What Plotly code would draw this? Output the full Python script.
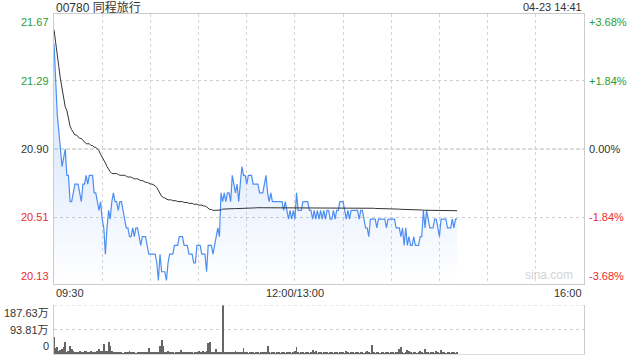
import plotly.graph_objects as go

title = "00780 同程旅行"
timestamp = "04-23 14:41"
prev_close = 20.90

# price per minute from 09:30 (index 0) to 14:41 (index 251); afternoon continues after index 150 (13:00)
price = [
    21.50, 21.30, 21.10, 21.00, 20.90, 20.80, 20.85, 20.90, 20.75, 20.75,
    20.60, 20.60, 20.65, 20.70, 20.70, 20.70, 20.65, 20.60, 20.70, 20.70,
    20.75, 20.70, 20.75, 20.75, 20.75, 20.65, 20.65, 20.60, 20.55, 20.60,
    20.50, 20.45, 20.30, 20.45, 20.55, 20.50, 20.60, 20.65, 20.60, 20.60,
    20.55, 20.60, 20.60, 20.55, 20.50, 20.45, 20.45, 20.40, 20.40, 20.45,
    20.40, 20.45, 20.45, 20.40, 20.35, 20.40, 20.40, 20.40, 20.35, 20.30,
    20.30, 20.30, 20.30, 20.30, 20.25, 20.15, 20.30, 20.20, 20.20, 20.20,
    20.15, 20.25, 20.30, 20.30, 20.30, 20.35, 20.35, 20.35, 20.40, 20.40,
    20.40, 20.35, 20.35, 20.35, 20.30, 20.30, 20.30, 20.25, 20.25, 20.35,
    20.35, 20.35, 20.30, 20.30, 20.30, 20.20, 20.35, 20.35, 20.35, 20.30,
    20.35, 20.40, 20.45, 20.40, 20.65, 20.60, 20.65, 20.60, 20.65, 20.65,
    20.60, 20.75, 20.70, 20.65, 20.70, 20.60, 20.70, 20.80, 20.75, 20.75,
    20.70, 20.75, 20.75, 20.75, 20.70, 20.70, 20.70, 20.70, 20.65, 20.65,
    20.65, 20.70, 20.75, 20.65, 20.60, 20.65, 20.60, 20.60, 20.60, 20.60,
    20.60, 20.60, 20.60, 20.55, 20.60, 20.55, 20.50, 20.55, 20.50, 20.55,
    20.50, 20.65, 20.55, 20.55, 20.55, 20.60, 20.60, 20.60, 20.60, 20.55,
    20.55, 20.50, 20.55, 20.50, 20.55, 20.50, 20.55, 20.50, 20.55, 20.50,
    20.55, 20.55, 20.50, 20.50, 20.55, 20.50, 20.55, 20.55, 20.60, 20.60,
    20.60, 20.55, 20.50, 20.55, 20.50, 20.55, 20.55, 20.55, 20.55, 20.55,
    20.50, 20.55, 20.55, 20.50, 20.45, 20.45, 20.40, 20.50, 20.50, 20.50,
    20.50, 20.45, 20.50, 20.50, 20.50, 20.50, 20.50, 20.45, 20.50, 20.50,
    20.50, 20.50, 20.50, 20.45, 20.45, 20.45, 20.40, 20.45, 20.35, 20.45,
    20.35, 20.40, 20.35, 20.35, 20.40, 20.35, 20.35, 20.35, 20.40, 20.40,
    20.55, 20.45, 20.55, 20.50, 20.45, 20.45, 20.45, 20.50, 20.50, 20.45,
    20.40, 20.50, 20.50, 20.50, 20.50, 20.45, 20.45, 20.45, 20.50, 20.45,
    20.50, 20.50,
]

avg_price = [
    21.58, 21.50, 21.44, 21.37, 21.30, 21.24, 21.18, 21.14, 21.12, 21.07,
    21.03, 21.01, 20.99, 20.98, 20.98, 20.97, 20.96, 20.96, 20.95, 20.94,
    20.93, 20.93, 20.93, 20.92, 20.92, 20.91, 20.91, 20.90, 20.89, 20.87,
    20.85, 20.84, 20.82, 20.80, 20.78, 20.77, 20.76, 20.76, 20.76, 20.76,
    20.755, 20.75, 20.75, 20.75, 20.75, 20.745, 20.74, 20.74, 20.74, 20.735,
    20.73, 20.73, 20.73, 20.725, 20.72, 20.72, 20.715, 20.71, 20.71, 20.705,
    20.70, 20.70, 20.695, 20.69, 20.68, 20.66, 20.65, 20.63, 20.625, 20.62,
    20.615, 20.61, 20.61, 20.61, 20.605, 20.605, 20.605, 20.60, 20.60, 20.60,
    20.60, 20.595, 20.595, 20.595, 20.59, 20.59, 20.59, 20.585, 20.585, 20.585,
    20.58, 20.58, 20.58, 20.575, 20.575, 20.57, 20.56, 20.555, 20.555, 20.55,
    20.55, 20.55, 20.548, 20.548, 20.552, 20.557, 20.558, 20.558, 20.559, 20.559,
    20.559, 20.56, 20.56, 20.56, 20.56, 20.561, 20.561, 20.562, 20.562, 20.563,
    20.563, 20.563, 20.564, 20.564, 20.564, 20.564, 20.565, 20.565, 20.565, 20.565,
    20.565, 20.566, 20.566, 20.566, 20.566, 20.566, 20.566, 20.566, 20.566, 20.566,
    20.566, 20.566, 20.566, 20.566, 20.566, 20.566, 20.566, 20.566, 20.566, 20.566,
    20.566, 20.566, 20.566, 20.566, 20.566, 20.566, 20.566, 20.566, 20.566, 20.566,
    20.566, 20.566, 20.566, 20.566, 20.566, 20.566, 20.566, 20.566, 20.566, 20.566,
    20.566, 20.566, 20.566, 20.566, 20.566, 20.566, 20.566, 20.566, 20.566, 20.566,
    20.566, 20.566, 20.566, 20.566, 20.566, 20.566, 20.565, 20.565, 20.565, 20.565,
    20.565, 20.565, 20.564, 20.564, 20.564, 20.563, 20.563, 20.562, 20.562, 20.562,
    20.561, 20.561, 20.561, 20.560, 20.560, 20.560, 20.560, 20.559, 20.559, 20.559,
    20.558, 20.558, 20.558, 20.557, 20.557, 20.557, 20.556, 20.556, 20.556, 20.555,
    20.555, 20.554, 20.554, 20.554, 20.553, 20.553, 20.553, 20.552, 20.552, 20.552,
    20.551, 20.551, 20.551, 20.551, 20.550, 20.550, 20.550, 20.550, 20.550, 20.549,
    20.549, 20.549, 20.549, 20.549, 20.549, 20.548, 20.548, 20.548, 20.548, 20.548,
    20.548, 20.548,
]

# volume per minute, in 万 shares
volume = [
    64, 22, 25, 12, 14, 20, 25, 45, 8, 13,
    29, 20, 11, 6, 8, 8, 13, 5, 8, 11,
    11, 5, 8, 11, 8, 8, 8, 13, 20, 13,
    13, 38, 13, 13, 45, 32, 13, 8, 4, 5,
    4, 4, 5, 3, 4, 5, 4, 11, 4, 5,
    4, 3, 5, 4, 4, 8, 4, 5, 4, 24,
    5, 8, 4, 5, 8, 6, 32, 52, 32, 8,
    5, 11, 4, 5, 4, 3, 5, 4, 4, 15,
    4, 8, 4, 8, 4, 5, 4, 3, 5, 4,
    13, 4, 8, 13, 4, 13, 42, 45, 4, 5,
    4, 20, 5, 4, 8, 187.63, 4, 5, 4, 4,
    5, 4, 8, 11, 4, 4, 5, 4, 24, 5,
    4, 3, 5, 4, 4, 3, 5, 4, 3, 4,
    5, 4, 4, 29, 4, 3, 4, 5, 3, 4,
    4, 3, 5, 4, 3, 4, 4, 5, 3, 4,
    10, 26, 4, 3, 5, 4, 3, 4, 5, 3,
    4, 17, 4, 10, 3, 4, 5, 3, 4, 4,
    5, 3, 4, 4, 3, 5, 4, 3, 4, 6,
    4, 3, 10, 4, 3, 4, 5, 3, 4, 4,
    3, 4, 5, 3, 4, 10, 4, 3, 33, 4,
    3, 4, 5, 3, 4, 4, 3, 5, 4, 3,
    4, 4, 3, 5, 4, 20, 26, 4, 3, 5,
    14, 10, 4, 3, 4, 5, 3, 4, 10, 4,
    3, 20, 4, 5, 3, 4, 4, 3, 10, 4,
    3, 14, 4, 5, 3, 4, 4, 3, 5, 4,
    3, 4,
]

time_labels = ["09:30", "12:00/13:00", "16:00"]
time_pos = [0, 150, 330]
price_ticks = [21.67, 21.29, 20.90, 20.51, 20.13]
price_labels = ["21.67", "21.29", "20.90", "20.51", "20.13"]
pct_labels = ["+3.68%", "+1.84%", "0.00%", "-1.84%", "-3.68%"]
vol_ticks = [187.63, 93.81, 0]
vol_labels = ["187.63万", "93.81万", "0"]

GREEN = "#2a9d35"
RED = "#ee2a2a"
DARK = "#333333"
FONT = "Liberation Sans, Arial, Noto Sans CJK SC, sans-serif"

fig = go.Figure()
fig.add_trace(go.Scatter(
    x=list(range(len(price))), y=price, mode="lines",
    line=dict(color="#4d8ef2", width=1.2),
    fill="tozeroy",
    fillgradient=dict(type="vertical", start=20.13, stop=20.85,
                      colorscale=[[0, "rgba(77,142,242,0.0)"], [1, "rgba(77,142,242,0.16)"]]),
    xaxis="x", yaxis="y", hoverinfo="skip"))
fig.add_trace(go.Scatter(
    x=list(range(len(avg_price))), y=avg_price, mode="lines",
    line=dict(color="#333333", width=1),
    xaxis="x", yaxis="y", hoverinfo="skip"))
fig.add_trace(go.Bar(
    x=list(range(len(volume))), y=volume, width=0.6,
    marker=dict(color="#666666", line=dict(width=0)),
    xaxis="x2", yaxis="y2", hoverinfo="skip"))

H = 340.0  # plot-area height in px (14..354)
main_bottom = (354 - 284) / H
vol_top = (354 - 305) / H

fig.update_layout(
    width=640, height=360,
    margin=dict(l=54, r=56, t=14, b=6),
    paper_bgcolor="white", plot_bgcolor="white",
    showlegend=False,
    font=dict(family=FONT, size=11, color=DARK),
    xaxis=dict(domain=[0, 1], range=[0, 330], anchor="y",
               tickvals=list(range(30, 330, 30)), showticklabels=False, ticks="",
               showgrid=True, gridcolor="#d6d6d6", griddash="dot", gridwidth=1,
               showline=True, linecolor="#cccccc", mirror=True, zeroline=False),
    yaxis=dict(domain=[main_bottom, 1], range=[price_ticks[-1], price_ticks[0]], anchor="x",
               tickvals=[price_ticks[1], price_ticks[3]], showticklabels=False, ticks="",
               showgrid=True, gridcolor="#cfcfcf", griddash="dot", gridwidth=1,
               showline=True, linecolor="#cccccc", mirror=True, zeroline=False),
    xaxis2=dict(domain=[0, 1], range=[0, 330], anchor="y2",
                showticklabels=False, ticks="", showgrid=False,
                showline=True, linecolor="#dddddd", mirror=False, zeroline=False),
    yaxis2=dict(domain=[0, vol_top], range=[0, vol_ticks[0]], anchor="x2",
                tickvals=[vol_ticks[1]], showticklabels=False, ticks="",
                showgrid=True, gridcolor="#cfcfcf", griddash="dot", gridwidth=1,
                showline=True, linecolor="#cccccc", mirror=True, zeroline=False),
    bargap=0,
)

shapes = [
    dict(type="line", xref="paper", x0=0, x1=1, yref="y", y0=prev_close, y1=prev_close,
         line=dict(color="#bbbbbb", width=1, dash="4px,2px"), layer="below"),
    dict(type="line", xref="paper", x0=0, x1=1, yref="y2", y0=vol_ticks[0], y1=vol_ticks[0],
         line=dict(color="#cfcfcf", width=1, dash="dot"), layer="above"),
]
fig.update_layout(shapes=shapes)

ann = []
def px_x(p):
    return (p - 54) / 530.0
def px_y(p):
    return (354 - p) / H

ann.append(dict(text=title, xref="paper", yref="paper", x=px_x(54), y=px_y(7),
                xanchor="left", yanchor="middle", showarrow=False,
                font=dict(size=12, color=DARK)))
ann.append(dict(text=timestamp, xref="paper", yref="paper", x=1, y=px_y(7),
                xanchor="right", yanchor="middle", showarrow=False,
                font=dict(size=11, color=DARK)))

colors = [GREEN, GREEN, DARK, RED, RED]
anchors = ["top", "middle", "middle", "middle", "bottom"]
for v, lab, pct, c, a in zip(price_ticks, price_labels, pct_labels, colors, anchors):
    ann.append(dict(text=lab, xref="paper", yref="y", x=px_x(51), y=v,
                    xanchor="right", yanchor=a, showarrow=False, font=dict(color=c)))
    ann.append(dict(text=pct, xref="paper", yref="y", x=px_x(587), y=v,
                    xanchor="left", yanchor=a, showarrow=False, font=dict(color=c)))

vanchors = ["top", "middle", "bottom"]
for v, lab, a in zip(vol_ticks, vol_labels, vanchors):
    ann.append(dict(text=lab, xref="paper", yref="y2", x=px_x(51), y=v,
                    xanchor="right", yanchor=a, showarrow=False, font=dict(color=DARK)))

xanchors = ["left", "center", "right"]
for pos, lab, a in zip(time_pos, time_labels, xanchors):
    ann.append(dict(text=lab, xref="x", yref="paper", x=pos, y=px_y(293),
                    xanchor=a, yanchor="middle", showarrow=False, font=dict(color=DARK)))

ann.append(dict(text="sina.com", xref="paper", yref="y", x=px_x(575), y=price_ticks[-1],
                xanchor="right", yanchor="bottom", showarrow=False,
                font=dict(size=12, color="#d4d4d4")))

fig.update_layout(annotations=ann)
fig.write_html("out.html")
